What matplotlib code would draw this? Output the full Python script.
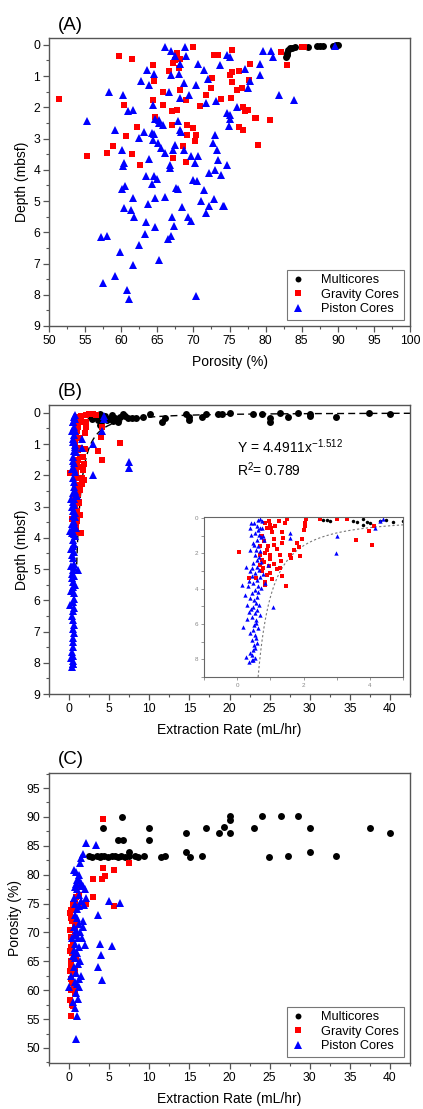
import matplotlib.pyplot as plt
import numpy as np
from matplotlib.ticker import MultipleLocator

plt.rcParams['font.family'] = ['Liberation Sans', 'DejaVu Sans']

# ---------------- Panel A: depth vs porosity ----------------
a_multi_por = [82.8, 82.9, 83.0, 83.1, 83.4, 83.7, 84.1, 85.9, 87.1, 87.5, 88.0, 89.4, 89.8, 90.0]
a_multi_dep = [0.40, 0.32, 0.25, 0.17, 0.11, 0.09, 0.08, 0.07, 0.05, 0.04, 0.04, 0.03, 0.02, 0.01]

a_grav_por = [51.4, 55.3, 59.7, 61.5, 60.4, 60.7, 58.9, 58.0, 61.5, 62.2, 62.6, 64.4, 64.5, 64.4,
              64.7, 65.8, 65.8, 67.7, 67.2, 66.6, 68.0, 68.2, 67.5, 67.1, 67.7, 67.1, 67.2, 68.2,
              69.0, 68.6, 69.0, 69.1, 69.1, 70.0, 70.0, 70.2, 70.4, 70.9, 71.8, 72.5, 72.6, 72.9,
              73.4, 73.8, 75.4, 75.0, 75.3, 75.3, 75.2, 76.3, 76.0, 76.7, 76.3, 76.9, 76.9, 77.1,
              77.6, 77.7, 77.9, 78.5, 78.7, 79.0, 80.6, 82.2, 83.0, 85.0, 85.3]
a_grav_dep = [1.72, 3.55, 0.36, 0.45, 1.93, 2.93, 3.23, 3.47, 3.49, 2.63, 3.84, 0.66, 1.16, 1.75,
              2.30, 1.50, 1.93, 0.26, 0.58, 0.84, 0.74, 0.45, 0.50, 2.12, 2.10, 2.58, 3.62, 1.46,
              1.76, 3.25, 3.76, 2.55, 2.87, 0.07, 2.66, 3.09, 2.90, 1.97, 1.59, 1.38, 1.06, 0.34,
              0.34, 1.72, 0.15, 0.95, 0.88, 1.20, 1.70, 0.84, 1.43, 1.38, 2.63, 2.71, 1.99, 2.13,
              2.10, 1.11, 0.61, 2.34, 2.34, 3.19, 2.41, 0.22, 0.64, 0.07, 0.07]

a_pist_por = [66.0, 66.9, 67.5, 68.9, 69.0, 68.2, 70.7, 73.7, 74.7, 75.0, 63.6, 64.5, 66.9, 68.0,
              71.4, 72.0, 62.8, 63.9, 68.7, 70.4, 66.6, 69.4, 68.1, 58.3, 60.2, 60.9, 61.6, 64.4,
              55.3, 64.7, 65.3, 65.8, 67.8, 68.1, 68.3, 59.2, 63.1, 62.5, 64.3, 64.4, 65.1, 65.5,
              66.0, 67.5, 67.2, 68.7, 69.7, 60.1, 60.4, 60.2, 63.9, 66.7, 66.8, 70.2, 63.5, 64.6,
              65.0, 64.3, 69.9, 70.5, 67.6, 67.8, 60.1, 60.5, 61.7, 64.7, 66.1, 63.7, 60.4, 61.3,
              61.8, 67.1, 67.3, 68.4, 69.2, 69.6, 63.5, 64.7, 63.3, 66.5, 66.9, 57.2, 58.0, 62.4,
              59.8, 65.2, 61.6, 59.1, 57.5, 60.8, 61.1, 70.4, 71.7, 73.1, 74.6, 75.0, 74.9, 75.1,
              73.0, 72.7, 73.3, 73.4, 74.6, 73.0, 73.8, 72.1, 71.4, 71.0, 72.1, 71.7, 72.9, 74.1,
              70.7, 77.1, 77.9, 77.6, 76.1, 79.2, 79.2, 79.7, 80.7, 81.0, 81.9, 84.0, 89.6, 65.3,
              64.6, 74.3]
a_pist_dep = [0.06, 0.20, 0.36, 0.06, 0.36, 0.61, 0.61, 0.65, 0.33, 0.38, 0.79, 0.93, 0.95, 0.93,
              0.82, 1.08, 1.16, 1.30, 1.22, 1.29, 1.52, 1.61, 1.70, 1.51, 1.59, 2.13, 2.10, 1.91,
              2.43, 2.36, 2.50, 2.57, 2.45, 2.71, 2.79, 2.71, 2.80, 2.98, 2.82, 3.03, 3.14, 3.30,
              3.46, 3.19, 3.35, 3.35, 3.57, 3.35, 3.78, 3.89, 3.64, 3.84, 3.94, 3.78, 4.21, 4.21,
              4.28, 4.45, 4.32, 4.37, 4.58, 4.60, 4.60, 4.53, 4.90, 4.90, 4.86, 5.11, 5.22, 5.30,
              5.52, 5.52, 5.81, 5.19, 5.52, 5.63, 5.67, 5.84, 6.05, 6.20, 6.13, 6.16, 6.13, 6.42,
              6.63, 6.90, 7.04, 7.41, 7.63, 7.84, 8.14, 8.03, 1.86, 1.81, 2.18, 2.23, 2.60, 2.37,
              2.87, 3.14, 3.35, 3.68, 3.86, 4.00, 4.18, 4.10, 4.64, 4.99, 5.17, 5.38, 4.95, 5.15,
              3.57, 0.77, 1.16, 1.38, 1.99, 0.60, 0.98, 0.20, 0.20, 0.38, 1.59, 1.77, 0.04, 2.40,
              2.85, 5.17]

# ---------------- Panel B: depth vs extraction rate ----------------
b_multi_rate = [2.7, 2.8, 3.5, 3.6, 3.8, 3.9, 4.0, 4.3, 4.5, 4.7, 5.0, 5.3, 5.5, 5.7, 6.1, 6.3,
                6.7, 7.0, 7.3, 7.8, 8.4, 9.2, 10.1, 11.6, 11.9, 14.6, 14.9, 15.0, 16.6, 17.1,
                18.6, 19.1, 20.0, 22.9, 24.0, 25.0, 25.0, 26.3, 27.3, 28.5, 30.0, 30.0, 33.3,
                37.4, 40.0, 3.8, 2.6]
b_multi_dep = [0.10, 0.20, 0.15, 0.22, 0.05, 0.23, 0.30, 0.18, 0.10, 0.23, 0.20, 0.07, 0.27,
               0.18, 0.29, 0.13, 0.04, 0.10, 0.18, 0.18, 0.18, 0.13, 0.04, 0.29, 0.18, 0.04,
               0.15, 0.23, 0.13, 0.04, 0.04, 0.04, 0.02, 0.04, 0.04, 0.18, 0.29, 0.00, 0.13,
               0.00, 0.04, 0.10, 0.15, 0.02, 0.04, 0.39, 0.11]

b_grav_rate = [0.06, 0.84, 0.99, 1.01, 1.04, 1.11, 1.11, 0.94, 0.99, 0.84, 0.74, 0.69, 0.79,
               0.89, 0.99, 0.84, 0.57, 0.35, 1.34, 1.37, 1.34, 1.32, 1.21, 1.34, 1.47, 1.29,
               1.60, 1.62, 1.72, 1.80, 1.87, 1.90, 1.95, 2.00, 2.05, 2.06, 2.08, 1.49, 1.44,
               1.29, 3.57, 4.07, 3.97, 4.12, 3.31, 6.32, 0.75, 0.80, 0.90, 0.70, 0.80, 0.95,
               0.75, 1.05, 0.90, 1.15, 0.70, 1.00, 0.85, 1.10, 1.20, 0.95, 1.25, 2.50, 3.00]
b_grav_dep = [1.93, 0.28, 0.38, 0.57, 0.81, 1.19, 1.52, 1.61, 2.08, 1.99, 2.37, 2.65, 2.84,
              3.22, 3.13, 3.64, 3.41, 3.40, 0.81, 1.14, 1.42, 2.46, 2.90, 3.28, 3.84, 2.84,
              2.08, 2.27, 1.84, 1.42, 1.65, 2.14, 1.17, 0.66, 0.28, 0.47, 0.06, 0.09, 0.28,
              2.08, 1.23, 1.52, 0.76, 0.47, 0.06, 0.96, 1.00, 1.30, 1.80, 2.10, 2.50, 2.70,
              3.00, 3.45, 0.60, 0.45, 1.60, 2.30, 3.80, 2.60, 1.75, 0.15, 0.20, 0.05, 0.04]

b_pist_rate = [0.69, 0.64, 0.74, 0.59, 0.69, 0.54, 0.67, 0.61, 0.48, 0.64, 0.57, 0.69, 0.54,
               0.61, 0.48, 0.59, 0.67, 0.54, 0.44, 0.59, 0.48, 0.64, 0.54, 0.46, 0.59, 0.51,
               0.57, 0.48, 0.61, 0.54, 0.46, 0.57, 0.51, 0.48, 0.54, 0.46, 0.51, 0.48, 0.44,
               0.48, 0.50, 0.62, 0.72, 0.52, 0.66, 0.72, 0.45, 0.70, 0.36, 0.72, 0.62, 0.40,
               0.66, 0.42, 0.70, 0.58, 0.62, 0.40, 0.58, 0.60, 0.55, 0.40, 0.55, 0.43, 0.79,
               0.81, 1.58, 1.60, 3.01, 2.99, 1.07, 4.32, 4.40, 4.15, 0.18, 0.26, 0.36, 0.46,
               0.16, 0.33, 0.28, 0.38, 0.23, 0.94, 0.79, 0.84, 0.38, 0.40, 0.43, 0.74, 7.50,
               7.50, 0.30, 0.35, 0.30]
b_pist_dep = [0.06, 0.14, 0.19, 0.47, 0.57, 0.85, 0.95, 1.23, 1.42, 1.61, 1.80, 1.89, 2.08,
              2.37, 2.56, 2.75, 2.94, 3.13, 3.31, 3.50, 3.69, 3.88, 4.07, 4.26, 4.45, 4.64,
              4.83, 5.02, 5.21, 5.40, 5.59, 5.78, 6.06, 6.35, 6.63, 6.92, 7.20, 7.48, 7.77,
              8.05, 0.30, 0.70, 1.10, 1.55, 2.20, 2.50, 2.85, 3.35, 3.55, 3.95, 4.20, 4.55,
              4.95, 5.15, 5.50, 5.95, 6.25, 6.50, 6.80, 7.05, 7.35, 7.65, 7.95, 0.95, 1.04,
              1.27, 1.14, 0.85, 1.00, 1.99, 5.02, 0.19, 0.09, 0.58, 6.16, 7.86, 8.14, 8.05,
              3.79, 3.84, 2.75, 3.03, 4.36, 2.65, 3.20, 3.70, 1.80, 0.57, 0.28, 0.57, 1.57,
              1.78, 4.90, 5.30, 5.70]

# power-law fit shown on panel B
fit_a = 4.4911
fit_b = -1.512

# ---------------- Panel C: porosity vs extraction rate ----------------
c_multi_rate = [2.5, 2.9, 3.5, 3.9, 4.0, 4.4, 4.9, 5.3, 5.7, 6.1, 6.5, 7.0, 7.5, 8.2, 8.6, 9.3,
                11.5, 11.9, 16.6, 24.9, 27.3, 33.3, 4.24, 6.65, 6.1, 6.7, 10.0, 10.0, 14.6,
                14.6, 15.1, 17.1, 18.7, 19.3, 20.0, 20.0, 20.0, 23.0, 24.0, 26.4, 28.6, 30.0,
                30.0, 37.5, 40.0, 7.5]
c_multi_por = [83.2, 83.1, 83.2, 83.0, 83.3, 83.2, 83.1, 83.2, 83.2, 83.0, 83.2, 83.1, 83.2,
               83.2, 83.1, 83.2, 83.0, 83.2, 83.2, 83.0, 83.2, 83.2, 88.0, 90.0, 86.0, 86.0,
               88.0, 86.0, 87.3, 84.0, 83.1, 88.0, 87.3, 88.2, 90.2, 89.4, 87.3, 88.0, 90.1,
               90.1, 90.1, 88.0, 84.0, 88.0, 87.3, 84.0]

c_grav_rate = [4.24, 4.24, 4.16, 4.45, 2.99, 5.61, 7.48, 2.99, 5.61, 1.41, 0.29, 0.50, 0.16,
               0.40, 0.08, 0.29, 0.16, 0.08, 0.29, 0.50, 0.70, 0.90, 1.70, 2.10, 1.30, 0.70,
               0.30, 0.60, 0.20, 0.40, 0.10, 0.50, 0.20, 0.60, 0.30, 0.50, 0.20, 0.70, 0.40,
               0.80, 0.90, 1.00, 0.60, 1.20, 0.45, 0.25, 0.35, 0.80]
c_grav_por = [89.6, 81.1, 79.3, 79.8, 79.2, 80.8, 82.1, 76.2, 74.6, 77.9, 55.5, 57.2, 58.3,
              61.2, 63.4, 65.1, 66.8, 73.3, 73.9, 74.7, 75.3, 76.2, 74.7, 75.0, 77.9, 71.0,
              69.2, 60.6, 72.5, 72.0, 70.5, 68.0, 67.5, 66.0, 64.0, 63.0, 62.0, 59.5, 57.5,
              63.5, 65.5, 71.5, 74.0, 76.5, 75.0, 60.0, 66.5, 69.5]

c_pist_rate = [2.08, 3.33, 1.54, 1.70, 1.40, 0.58, 0.90, 1.70, 1.30, 1.00, 1.50, 2.00, 1.20,
               0.70, 1.90, 2.10, 3.62, 4.99, 6.32, 3.91, 5.41, 4.03, 3.62, 4.16, 0.00, 1.00,
               0.83, 1.95, 1.75, 0.60, 0.80, 1.00, 1.30, 1.50, 0.70, 1.00, 1.20, 0.60, 0.90,
               1.40, 0.70, 1.10, 0.80, 1.30, 0.60, 1.00, 0.80, 1.40, 1.10, 0.60, 0.90, 1.50,
               1.20, 0.70, 1.00, 1.30, 0.90, 1.10, 0.50, 0.80, 1.60, 1.20, 0.90, 1.00, 0.40,
               0.50, 0.30, 1.60, 1.80]
c_pist_por = [85.4, 85.1, 82.8, 83.5, 82.0, 80.8, 78.4, 78.0, 79.0, 77.5, 78.5, 77.5, 76.5,
              77.8, 74.8, 76.0, 73.0, 75.5, 75.1, 68.0, 67.7, 66.1, 64.0, 61.7, 60.6, 55.5,
              51.5, 67.8, 71.0, 76.0, 75.0, 74.0, 74.5, 75.5, 73.0, 72.5, 71.5, 71.0, 70.5,
              70.0, 69.5, 69.0, 68.0, 67.5, 67.0, 66.5, 65.5, 65.0, 64.5, 64.0, 63.0, 62.5,
              62.0, 61.5, 61.0, 60.5, 59.5, 58.5, 58.0, 57.0, 78.0, 80.0, 80.5, 79.0, 69.0,
              66.0, 62.5, 69.0, 72.0]

SPINE = '#555555'
MS = dict(circle=5.0, square=4.6, tri=6.2)


def style_axes(ax, fs=8.7):
    for s in ax.spines.values():
        s.set_color(SPINE)
        s.set_linewidth(1.0)
    ax.tick_params(which='both', direction='out', top=False, right=False,
                   color=SPINE, labelsize=fs, pad=2.5)
    ax.tick_params(which='major', length=4, width=0.9)
    ax.tick_params(which='minor', length=2.5, width=0.8)


def draw_points(ax, sets, scale=1.0):
    (mx, my), (gx, gy), (px, py) = sets
    ax.plot(mx, my, 'o', color='black', ms=MS['circle'] * scale, mew=0, label='Multicores')
    ax.plot(gx, gy, 's', color='#ff0000', ms=MS['square'] * scale, mew=0, label='Gravity Cores')
    ax.plot(px, py, '^', color='#0000ff', ms=MS['tri'] * scale, mew=0, label='Piston Cores')


def add_legend(ax):
    leg = ax.legend(loc='lower right', fontsize=9.2, frameon=True, fancybox=False,
                    framealpha=1, edgecolor='#777777', handlelength=1.0, markerscale=0.85,
                    handletextpad=1.3, borderpad=0.35, labelspacing=0.2,
                    borderaxespad=0.5)
    leg.get_frame().set_linewidth(0.8)


fig = plt.figure(figsize=(4.23, 11.09), dpi=100)
W, H = 423.0, 1109.0


def box(x0, y0, x1, y1):
    return [x0 / W, 1 - y1 / H, (x1 - x0) / W, (y1 - y0) / H]


# ---- (A)
axA = fig.add_axes(box(49, 38, 410, 326))
draw_points(axA, [(a_multi_por, a_multi_dep), (a_grav_por, a_grav_dep), (a_pist_por, a_pist_dep)])
axA.set_xlim(50, 100)
axA.set_ylim(9, -0.22)
axA.xaxis.set_major_locator(MultipleLocator(5))
axA.xaxis.set_minor_locator(MultipleLocator(2.5))
axA.yaxis.set_major_locator(MultipleLocator(1))
axA.yaxis.set_minor_locator(MultipleLocator(0.5))
style_axes(axA)
axA.set_xlabel('Porosity (%)', fontsize=10, labelpad=6)
axA.set_ylabel('Depth (mbsf)', fontsize=10, labelpad=3)
add_legend(axA)
fig.text(58 / W, 1 - 25 / H, '(A)', fontsize=13.5, va='center', ha='left')

# ---- (B)
axB = fig.add_axes(box(49, 405, 410, 694))
draw_points(axB, [(b_multi_rate, b_multi_dep), (b_grav_rate, b_grav_dep), (b_pist_rate, b_pist_dep)])
xfit = np.linspace(0.95, 42.5, 400)
axB.plot(xfit, fit_a * xfit ** fit_b, color='black', lw=1.0, ls=(0, (5, 3)), zorder=1)
axB.set_xlim(-2.5, 42.5)
axB.set_ylim(9, -0.25)
axB.xaxis.set_major_locator(MultipleLocator(5))
axB.xaxis.set_minor_locator(MultipleLocator(2.5))
axB.yaxis.set_major_locator(MultipleLocator(1))
axB.yaxis.set_minor_locator(MultipleLocator(0.5))
style_axes(axB)
axB.set_xlabel('Extraction Rate (mL/hr)', fontsize=10, labelpad=6)
axB.set_ylabel('Depth (mbsf)', fontsize=10, labelpad=3)
axB.text(20.9, 1.09, r'Y = 4.4911x$^{\mathregular{-1.512}}$', fontsize=10, va='center')
axB.text(20.9, 1.83, r'R$^{\mathregular{2}}$= 0.789', fontsize=10, va='center')
fig.text(58 / W, 1 - 392 / H, '(B)', fontsize=13.5, va='center', ha='left')

# inset
axI = fig.add_axes(box(204, 517, 403, 677))
draw_points(axI, [(b_multi_rate, b_multi_dep), (b_grav_rate, b_grav_dep), (b_pist_rate, b_pist_dep)],
            scale=0.5)
xin = np.linspace(0.62, 5, 300)
axI.plot(xin, fit_a * xin ** fit_b, color='#777777', lw=0.8, ls=(0, (2, 2)), zorder=1)
axI.set_xlim(-1, 5)
axI.set_ylim(9, -0.05)
axI.xaxis.set_major_locator(MultipleLocator(2))
axI.xaxis.set_minor_locator(MultipleLocator(1))
axI.yaxis.set_major_locator(MultipleLocator(2))
axI.yaxis.set_minor_locator(MultipleLocator(1))
for s in axI.spines.values():
    s.set_color('#666666')
    s.set_linewidth(0.8)
axI.tick_params(which='both', direction='out', color='#888888', labelsize=4.5,
                labelcolor='#888888', length=2, width=0.6, pad=2)

# ---- (C)
axC = fig.add_axes(box(49, 773, 410, 1063))
draw_points(axC, [(c_multi_rate, c_multi_por), (c_grav_rate, c_grav_por), (c_pist_rate, c_pist_por)])
axC.set_xlim(-2.5, 42.5)
axC.set_ylim(47.4, 97.6)
axC.xaxis.set_major_locator(MultipleLocator(5))
axC.xaxis.set_minor_locator(MultipleLocator(2.5))
axC.yaxis.set_major_locator(MultipleLocator(5))
axC.yaxis.set_minor_locator(MultipleLocator(2.5))
style_axes(axC)
axC.set_xlabel('Extraction Rate (mL/hr)', fontsize=10, labelpad=6)
axC.set_ylabel('Porosity (%)', fontsize=10, labelpad=3)
add_legend(axC)
fig.text(58 / W, 1 - 759 / H, '(C)', fontsize=13.5, va='center', ha='left')

fig.savefig('out.png', dpi=100, facecolor='white')
plt.close(fig)
